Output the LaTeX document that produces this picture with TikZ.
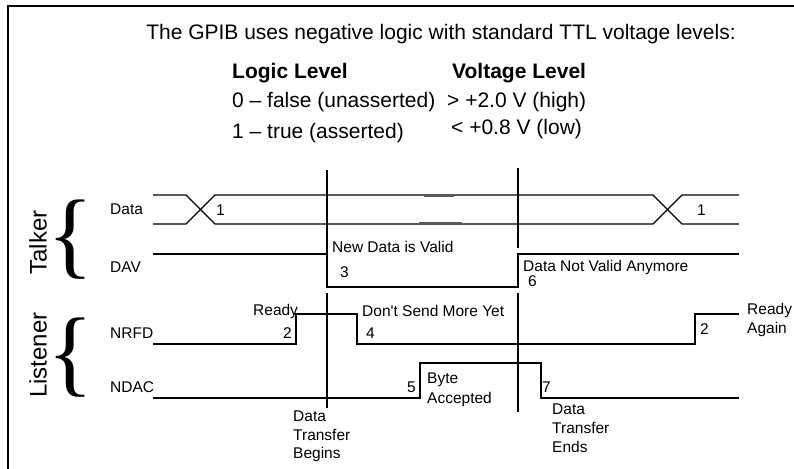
\documentclass[tikz,border=0pt]{standalone}
\usepackage{fontspec}
\setmainfont{Liberation Sans}
\newfontfamily\plainsans{Liberation Sans}[Ligatures=TeXOff]
\newfontfamily\bracefont{Liberation Serif}
\tikzset{
  sig/.style={line width=1.3pt, line join=miter, draw=black},
  lbl/.style={font=\fontsize{15.5}{18}\selectfont, inner sep=0pt, anchor=base west},
  hdr/.style={font=\fontsize{21}{25}\selectfont, inner sep=0pt, anchor=base west},
  hdrb/.style={font=\fontsize{21}{25}\selectfont\bfseries, inner sep=0pt, anchor=base west},
  group/.style={font=\fontsize{24}{28}\selectfont, inner sep=0pt, rotate=90},
  brace/.style={font=\bracefont\fontsize{96}{96}\selectfont, inner sep=0pt},
}
\begin{document}
\begin{tikzpicture}[x=1pt,y=-1pt]
\useasboundingbox (0,0) rectangle (794,468);
% frame
\draw[line width=2pt] (7.5,472) -- (7.5,6) -- (798,6);

% header
\node[hdr, anchor=base] (title) at (441,40) {The GPIB uses negative logic with standard TTL voltage levels:};
\node[hdrb] (hlogic) at (232,79) {Logic Level};
\node[hdrb] (hvolt) at (452,79) {Voltage Level};
\node[hdr] (l0) at (232,108) {0 -- false (unasserted)};
\node[hdr] (v0) at (447,108) {> +2.0 V (high)};
\node[hdr] (l1) at (232,138) {1 -- true (asserted)};
\node[hdr] (v1) at (451,135) {< +0.8 V (low)};

% group labels and braces
\node[group] (talker) at (38,242.5) {Talker};
\node[group] (listener) at (38,355) {Listener};
\node[brace] (tbrace) at (71,240) {\{};
\node[brace] (lbrace) at (71,357.5) {\{};

% signal names
\node[lbl] (ndata) at (110,214.5) {Data};
\node[lbl] (ndav) at (110,272.5) {DAV};
\node[lbl] (nnrfd) at (110,338.5) {NRFD};
\node[lbl] (nndac) at (110,392.5) {NDAC};

% data bus
\draw[sig] (153,195) -- (186,195) -- (215,224) -- (653,224) -- (682,195) -- (739,195);
\draw[sig] (153,224) -- (186,224) -- (215,195) -- (653,195) -- (682,224) -- (739,224);
\draw[black!65, line width=1.3pt] (424,196.5) -- (454,196.5);
\draw[black!65, line width=1.3pt] (419,222.5) -- (462,222.5);
% DAV
\draw[sig] (153,254) -- (327,254) -- (327,287) -- (518,287) -- (518,254) -- (739,254);
% NRFD
\draw[sig] (153,344) -- (296,344) -- (296,314) -- (357,314) -- (357,344) -- (695,344) -- (695,314) -- (739,314);
% NDAC
\draw[sig] (153,398) -- (420,398) -- (420,363) -- (541,363) -- (541,398) -- (739,398);

% marker lines
\draw[sig] (327,170) -- (327,254);
\draw[sig] (327,293) -- (327,408);
\draw[sig] (518,168) -- (518,248);
\draw[sig] (518,293) -- (518,412);

% event labels
\node[lbl] (e1a) at (216,215.5) {1};
\node[lbl] (e1b) at (697,215.5) {1};
\node[lbl] (newdata) at (332,252.5) {New Data is Valid};
\node[lbl] (e3) at (340,277) {3};
\node[lbl] (notvalid) at (523,271) {Data Not Valid Anymore};
\node[lbl] (e6) at (528,286) {6};
\node[lbl] (ready) at (253,315) {Ready};
\node[lbl] (e2a) at (283,338) {2};
\node[lbl] (dontsend) at (362,316) {\plainsans Don't Send More Yet};
\node[lbl] (e4) at (366,338) {4};
\node[lbl] (e2b) at (700,334) {2};
\node[lbl] (ready2) at (747,314) {Ready};
\node[lbl] (again) at (747,333) {Again};
\node[lbl] (e5) at (407,392) {5};
\node[lbl] (byte) at (427,383) {Byte};
\node[lbl] (accepted) at (427,403) {Accepted};
\node[lbl] (e7) at (542,392) {7};
\node[lbl] (dte1) at (552,414) {Data};
\node[lbl] (dte2) at (552,433) {Transfer};
\node[lbl] (dte3) at (552,452) {Ends};
\node[lbl] (dtb1) at (293,421) {Data};
\node[lbl] (dtb2) at (293,440) {Transfer};
\node[lbl] (dtb3) at (293,458) {Begins};
\end{tikzpicture}
\end{document}
